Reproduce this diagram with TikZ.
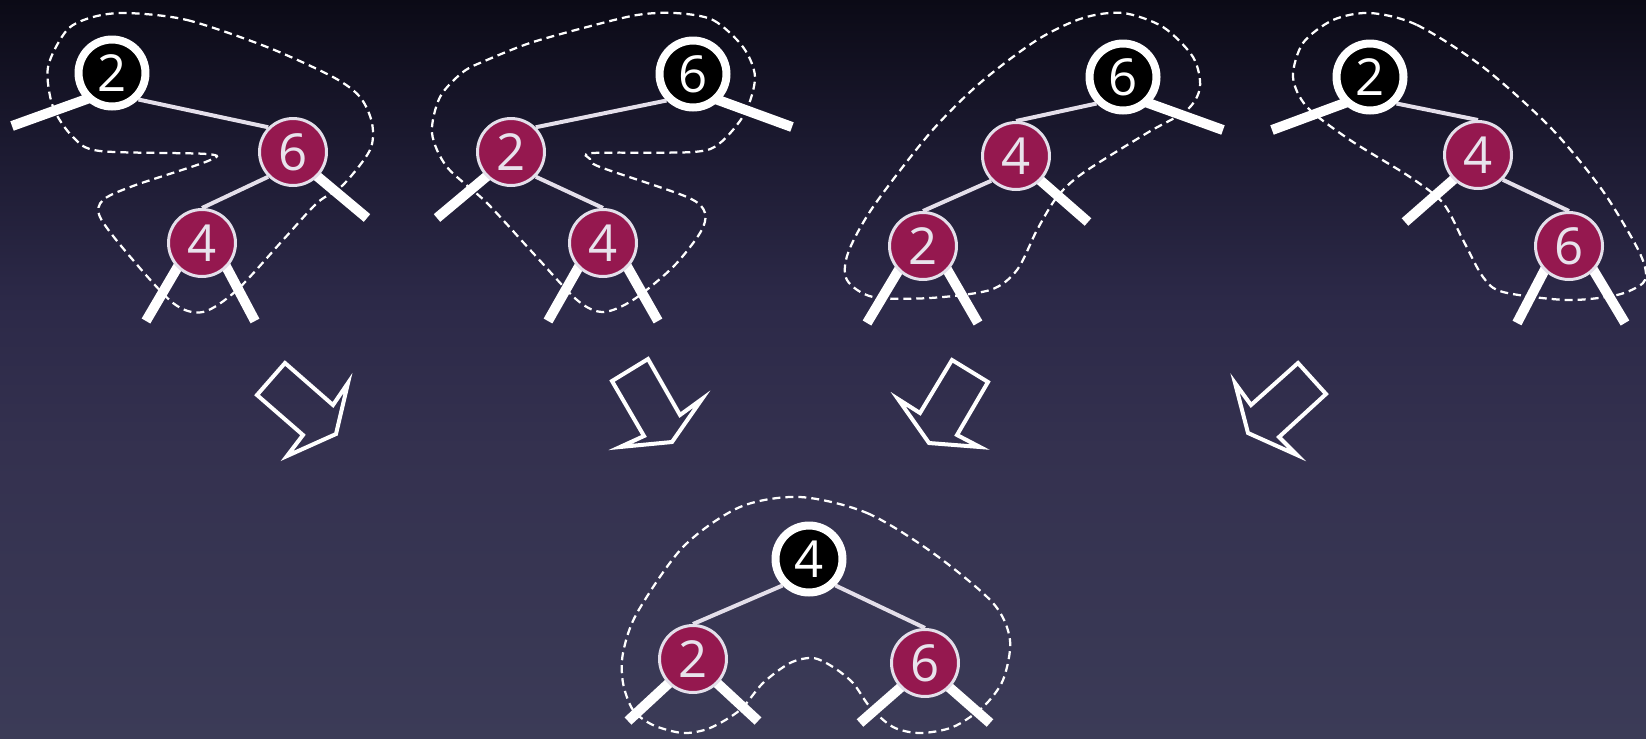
\documentclass[tikz,border=0pt]{standalone}
\usepackage{fontspec}
\setmainfont{Open Sans}
\usetikzlibrary{positioning}

\definecolor{rbred}{HTML}{95184F}
\definecolor{rbrim}{HTML}{E4DFEA}
\definecolor{rbtext}{HTML}{E8E3EC}
\definecolor{bgA}{HTML}{3B3B57}
\definecolor{bgB}{HTML}{34314F}
\definecolor{bgC}{HTML}{2C2948}
\definecolor{bgD}{HTML}{1C1A31}
\definecolor{bgE}{HTML}{0B0A16}

\pgfdeclareverticalshading{bgshade}{100bp}{color(0bp)=(bgA); color(25bp)=(bgA); color(44.5bp)=(bgB); color(54.7bp)=(bgC); color(64.8bp)=(bgD); color(75bp)=(bgE); color(100bp)=(bgE)}

\pgfdeclarelayer{edges}
\pgfsetlayers{edges,main}

\begin{document}
\begin{tikzpicture}[
    x=0.02cm,
    y=-0.02cm,
    black node/.style={circle,fill=black,draw=white,line width=0.16cm,minimum size=1.34cm,inner sep=0pt,text=white,font=\fontsize{29}{32}\selectfont},
    red node/.style={circle,fill=rbred,draw=rbrim,line width=0.06cm,minimum size=1.34cm,inner sep=0pt,text=rbtext,font=\fontsize{29}{32}\selectfont},
    tree edge/.style={draw=rbrim,line width=0.08cm},
    nil edge/.style={draw=white,line width=0.2cm,shorten <=-0.15cm},
    subtree hull/.style={draw=white,line width=0.045cm,dash pattern=on 0.16cm off 0.1cm},
    turn arrow/.style={draw=white,line width=0.08cm,line join=miter}
]
\useasboundingbox (0,0) rectangle (1646,738);
\clip (0,0) rectangle (1646,738);

% Tree 1: 2 -> 6 -> 4
\node[black node] (t1_two) at (112,73) {2};
\node[red node] (t1_six) at (293,152) {6};
\node[red node] (t1_four) at (202,243) {4};
\coordinate (t1_two_nil) at (12,126);
\coordinate (t1_six_nil) at (367,218);
\coordinate (t1_four_l) at (146,321);
\coordinate (t1_four_r) at (255,321);

% Tree 2: 6 -> 2 -> 4
\node[black node] (t2_six) at (693,74) {6};
\node[red node] (t2_two) at (511,152) {2};
\node[red node] (t2_four) at (603,243) {4};
\coordinate (t2_six_nil) at (792,127);
\coordinate (t2_two_nil) at (437,218);
\coordinate (t2_four_l) at (548,321);
\coordinate (t2_four_r) at (658,321);

% Tree 3: 6 -> 4 -> 2
\node[black node] (t3_six) at (1123,77) {6};
\node[red node] (t3_four) at (1016,156) {4};
\node[red node] (t3_two) at (923,246) {2};
\coordinate (t3_six_nil) at (1223,130);
\coordinate (t3_four_nil) at (1088,222);
\coordinate (t3_two_l) at (867,323);
\coordinate (t3_two_r) at (978,323);

% Tree 4: 2 -> 4 -> 6
\node[black node] (t4_two) at (1370,77) {2};
\node[red node] (t4_four) at (1478,155) {4};
\node[red node] (t4_six) at (1569,246) {6};
\coordinate (t4_two_nil) at (1272,130);
\coordinate (t4_four_nil) at (1405,222);
\coordinate (t4_six_l) at (1517,323);
\coordinate (t4_six_r) at (1625,323);

% Balanced result
\node[black node] (b_four) at (809,559) {4};
\node[red node] (b_two) at (693,659) {2};
\node[red node] (b_six) at (925,663) {6};
\coordinate (b_two_l) at (628,721);
\coordinate (b_two_r) at (758,721);
\coordinate (b_six_l) at (860,723);
\coordinate (b_six_r) at (990,723);

\begin{pgfonlayer}{edges}
% Background
\fill[shading=bgshade] (0,0) rectangle (1646,738);

% Tree edges
\draw[tree edge] (t1_two.south east) -- (t1_six.north west);
\draw[tree edge] (t1_six.south west) -- (t1_four.north);
\draw[tree edge] (t2_six.south west) -- (t2_two.north east);
\draw[tree edge] (t2_two.south east) -- (t2_four.north);
\draw[tree edge] (t3_six.south west) -- (t3_four.north);
\draw[tree edge] (t3_four.south west) -- (t3_two.north);
\draw[tree edge] (t4_two.south east) -- (t4_four.north);
\draw[tree edge] (t4_four.south east) -- (t4_six.north);
\draw[tree edge] (b_four.south west) -- (b_two.north);
\draw[tree edge] (b_four.south east) -- (b_six.north);

% Nil leaves
\draw[nil edge] (t1_two.south west) -- (t1_two_nil);
\draw[nil edge] (t1_six.south east) -- (t1_six_nil);
\draw[nil edge] (t1_four.south west) -- (t1_four_l);
\draw[nil edge] (t1_four.south east) -- (t1_four_r);
\draw[nil edge] (t2_six.south east) -- (t2_six_nil);
\draw[nil edge] (t2_two.south west) -- (t2_two_nil);
\draw[nil edge] (t2_four.south west) -- (t2_four_l);
\draw[nil edge] (t2_four.south east) -- (t2_four_r);
\draw[nil edge] (t3_six.south east) -- (t3_six_nil);
\draw[nil edge] (t3_four.south east) -- (t3_four_nil);
\draw[nil edge] (t3_two.south west) -- (t3_two_l);
\draw[nil edge] (t3_two.south east) -- (t3_two_r);
\draw[nil edge] (t4_two.south west) -- (t4_two_nil);
\draw[nil edge] (t4_four.south west) -- (t4_four_nil);
\draw[nil edge] (t4_six.south west) -- (t4_six_l);
\draw[nil edge] (t4_six.south east) -- (t4_six_r);
\draw[nil edge] (b_two.south west) -- (b_two_l);
\draw[nil edge] (b_two.south east) -- (b_two_r);
\draw[nil edge] (b_six.south west) -- (b_six_l);
\draw[nil edge] (b_six.south east) -- (b_six_r);
\end{pgfonlayer}

% Dashed hulls round each tree
\draw[subtree hull] plot[smooth cycle,tension=0.5] coordinates {
    (127,13) (187,20) (267,47) (333,77) (360,97) (372,123) (370,150) (343,185)
    (317,203) (283,240) (237,290) (203,312) (173,303) (127,253) (100,217)
    (103,200) (133,186) (208,161) (207,154) (100,151) (73,137) (53,107)
    (48,67) (67,30) (93,17)};
\draw[subtree hull] plot[smooth cycle,tension=0.5] coordinates {
    (675,13) (713,20) (743,47) (755,77) (745,113) (720,143) (693,152)
    (593,153) (590,159) (600,167) (687,197) (705,213) (700,233) (673,267)
    (633,300) (603,312) (577,300) (533,253) (487,203) (447,167) (432,133)
    (440,97) (463,72) (487,60) (530,43) (587,27) (637,15)};
\draw[subtree hull] plot[smooth cycle,tension=0.5] coordinates {
    (1123,13) (1163,27) (1193,57) (1200,87) (1187,110) (1147,133) (1083,173)
    (1057,197) (1037,230) (1017,270) (990,290) (930,298) (873,297) (847,280)
    (848,253) (873,207) (930,133) (980,83) (1037,40) (1083,18)};
\draw[subtree hull] plot[smooth cycle,tension=0.5] coordinates {
    (1370,13) (1417,25) (1483,67) (1550,127) (1600,187) (1633,240) (1645,267)
    (1643,283) (1617,295) (1567,300) (1503,292) (1483,277) (1463,240)
    (1443,203) (1410,177) (1350,140) (1307,107) (1293,77) (1303,43) (1333,20)};
\draw[subtree hull] plot[smooth cycle,tension=0.5] coordinates {
    (800,497) (867,513) (933,553) (993,603) (1010,640) (1003,680) (983,707)
    (953,727) (920,733) (893,727) (870,707) (853,683) (833,667) (813,658)
    (790,663) (763,683) (740,710) (710,728) (683,733) (653,725) (633,710)
    (623,683) (623,653) (637,613) (683,547) (740,507)};

% Rotation arrows
\draw[turn arrow] (285,363) -- (257,395) -- (303,435) -- (287,456) -- (336,434) -- (348,383) -- (333,405) -- cycle;
\draw[turn arrow] (648,359) -- (612,381) -- (644,436) -- (620,447) -- (672,442) -- (702,399) -- (680,415) -- cycle;
\draw[turn arrow] (952,360) -- (988,382) -- (957,435) -- (980,447) -- (929,443) -- (898,399) -- (920,413) -- cycle;
\draw[turn arrow] (1298,363) -- (1326,394) -- (1279,437) -- (1297,455) -- (1248,433) -- (1235,383) -- (1251,405) -- cycle;

\end{tikzpicture}
\end{document}
